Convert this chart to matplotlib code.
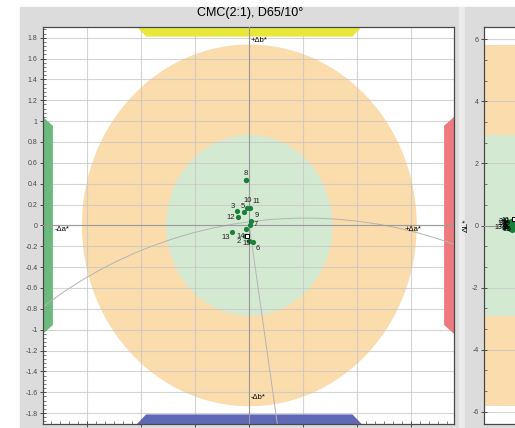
import matplotlib.pyplot as plt
from matplotlib.patches import Ellipse, Circle, Polygon, Rectangle
from matplotlib.ticker import MultipleLocator, AutoMinorLocator, FuncFormatter

plt.rcParams['font.family'] = ['Liberation Sans', 'DejaVu Sans']

# samples (Δa*, Δb*, ΔL*)
labels = ['1', '2', '3', '4', '5', '6', '7', '8', '9', '10', '11', '12', '13', '14', '15']
show_label = [False, True, True, False, True, True, True, True, True, True, True, True, True, True, True]
da = [-0.031, -0.036, -0.112, -0.033, -0.050, 0.037, 0.006, -0.033, 0.020, -0.019, 0.002, -0.107, -0.157, -0.030, 0.000]
db = [-0.038, -0.106, 0.137, 0.432, 0.130, -0.157, 0.005, 0.435, 0.041, 0.171, 0.168, 0.077, -0.061, -0.104, -0.145]
dl = [0.05, -0.08, 0.12, -0.02, 0.10, -0.12, 0.02, 0.00, 0.06, 0.15, 0.14, 0.08, -0.05, -0.10, -0.14]
# label offsets in points
lab_dx = [0, -4.5, -3.5, 0, -0.8, 3.4, 4.2, 0, 3.8, 0, 4.6, -5.0, -5.0, -3.8, -1.8]
lab_dy = [0, -3.4, 3.0, 0, 4.0, -4.8, 0, 5.0, 3.8, 4.8, 4.8, 0, -4.4, 0, -1.8]

std_da, std_db, std_dl = -0.022, -0.104, 0.22

# CMC tolerance ellipse half axes
outer_a, outer_b = 1.55, 1.735
inner_a, inner_b = 0.77, 0.867
# ΔL* tolerance bands
outer_l, inner_l = 5.815, 2.915
# chroma circle through the standard and the hue line to its centre
hue_cx, hue_cy, hue_r = 0.52, -3.82, 3.89

xlim = (-1.91, 1.895)
ylim = (-1.905, 1.903)
bar_outer, bar_inner, bar_depth = 1.04, 0.955, 0.092

W, H = 515, 428
fig = plt.figure(figsize=(W / 100, H / 100), dpi=100, facecolor='white')

# panel backgrounds
fig.add_artist(Rectangle((20 / W, 0), 439 / W, 421 / H, transform=fig.transFigure, color='#dcdcdc', zorder=-5))
fig.add_artist(Rectangle((459 / W, 0), 6 / W, 421 / H, transform=fig.transFigure, color='#ececec', zorder=-5))
fig.add_artist(Rectangle((465 / W, 0), 50 / W, 421 / H, transform=fig.transFigure, color='#dcdcdc', zorder=-5))

green = '#17803a'
spine_c = '#4a4a4a'
grid_c = '#c4c4c4'


def style_axes(ax):
    for s in ax.spines.values():
        s.set_color(spine_c)
        s.set_linewidth(0.9)
    ax.tick_params(which='major', direction='inout', length=4, width=0.7, labelsize=5, colors=spine_c, pad=2)
    ax.tick_params(which='minor', direction='in', length=2, width=0.5, colors=spine_c)
    ax.set_axisbelow('line')
    ax.grid(True, which='major', color=grid_c, lw=0.8, alpha=0.7)


fmt = FuncFormatter(lambda v, p: '{:g}'.format(round(v, 3)))

# ---- left: Δa* / Δb* ----
ax = fig.add_axes([43 / W, 4 / H, 411 / W, 397 / H])
ax.set_xlim(*xlim)
ax.set_ylim(*ylim)
style_axes(ax)
ax.xaxis.set_major_locator(MultipleLocator(0.5))
ax.xaxis.set_minor_locator(AutoMinorLocator(6))
ax.yaxis.set_major_locator(MultipleLocator(0.2))
ax.yaxis.set_minor_locator(AutoMinorLocator(5))
ax.xaxis.set_major_formatter(fmt)
ax.yaxis.set_major_formatter(fmt)

ax.add_patch(Ellipse((0, 0), 2 * outer_a, 2 * outer_b, color='#fbdcad', lw=0, zorder=1))
ax.add_patch(Ellipse((0, 0), 2 * inner_a, 2 * inner_b, color='#d4e9d2', lw=0, zorder=1.1))

# direction bars
x0, x1 = xlim
y0, y1 = ylim
bars = [
    ([(-bar_outer, y1), (bar_outer, y1), (bar_inner, y1 - bar_depth), (-bar_inner, y1 - bar_depth)], '#e8e83c'),
    ([(-bar_outer, y0), (bar_outer, y0), (bar_inner, y0 + bar_depth), (-bar_inner, y0 + bar_depth)], '#6068b6'),
    ([(x0, -bar_outer), (x0, bar_outer), (x0 + bar_depth, bar_inner), (x0 + bar_depth, -bar_inner)], '#6cba7e'),
    ([(x1, -bar_outer), (x1, bar_outer), (x1 - bar_depth, bar_inner), (x1 - bar_depth, -bar_inner)], '#ee7a80'),
]
for pts, c in bars:
    ax.add_patch(Polygon(pts, closed=True, color=c, lw=0, zorder=2, clip_on=False))

ax.add_patch(Circle((hue_cx, hue_cy), hue_r, fill=False, ec='#b4b4b4', lw=0.7, zorder=2.5))
ax.plot([0, hue_cx], [0, hue_cy], color='#b4b4b4', lw=0.7, zorder=2.5)
ax.axhline(0, color='#9a9a9a', lw=0.8, zorder=2.6)
ax.axvline(0, color='#9a9a9a', lw=0.8, zorder=2.6)

ax.text(0.012, 1.77, '+Δb*', fontsize=5.5, ha='left', va='center', zorder=4)
ax.text(0.012, -1.655, '-Δb*', fontsize=5.5, ha='left', va='center', zorder=4)
ax.text(-1.80, -0.01, '-Δa*', fontsize=5.5, ha='left', va='top', zorder=4)
ax.text(1.44, -0.01, '+Δa*', fontsize=5.5, ha='left', va='top', zorder=4)

ax.scatter(da, db, s=14, color=green, lw=0, zorder=3)
ax.scatter([std_da], [std_db], s=12, marker='s', facecolor='white', edgecolor='black', lw=0.7, zorder=3.2)
for i, lab in enumerate(labels):
    if show_label[i]:
        ax.annotate(lab, (da[i], db[i]), xytext=(lab_dx[i], lab_dy[i]), textcoords='offset points',
                    fontsize=5.5, ha='center', va='center', color='#222222', zorder=4)

fig.text(250 / W, 1 - 13 / H, 'CMC(2:1), D65/10°', fontsize=9, ha='center', va='center')

# ---- right: ΔL* ----
ax2 = fig.add_axes([484 / W, 4 / H, 110 / W, 397 / H])
ax2.set_xlim(-0.54, 1.58)
ax2.set_ylim(-6.4, 6.4)
style_axes(ax2)
ax2.yaxis.set_major_locator(MultipleLocator(2))
ax2.yaxis.set_minor_locator(AutoMinorLocator(3))
ax2.yaxis.set_major_formatter(fmt)
ax2.set_xticks([])
ax2.axhspan(-outer_l, outer_l, color='#fbdcad', lw=0, zorder=1)
ax2.axhspan(-inner_l, inner_l, color='#d4e9d2', lw=0, zorder=1.1)
ax2.axhline(0, color='#9a9a9a', lw=0.8, zorder=2.6)
ax2.set_ylabel('ΔL*', fontsize=6, labelpad=2)
ax2.scatter(da, dl, s=14, color=green, lw=0, zorder=3)
ax2.scatter([0.03], [std_dl], s=12, marker='s', facecolor='white', edgecolor='black', lw=0.7, zorder=3.2)
for i, lab in enumerate(labels):
    ax2.annotate(lab, (da[i], dl[i]), xytext=(-4, 0), textcoords='offset points',
                 fontsize=5, ha='center', va='center', color='black', zorder=4)

fig.savefig('out.png', dpi=100, facecolor=fig.get_facecolor())
